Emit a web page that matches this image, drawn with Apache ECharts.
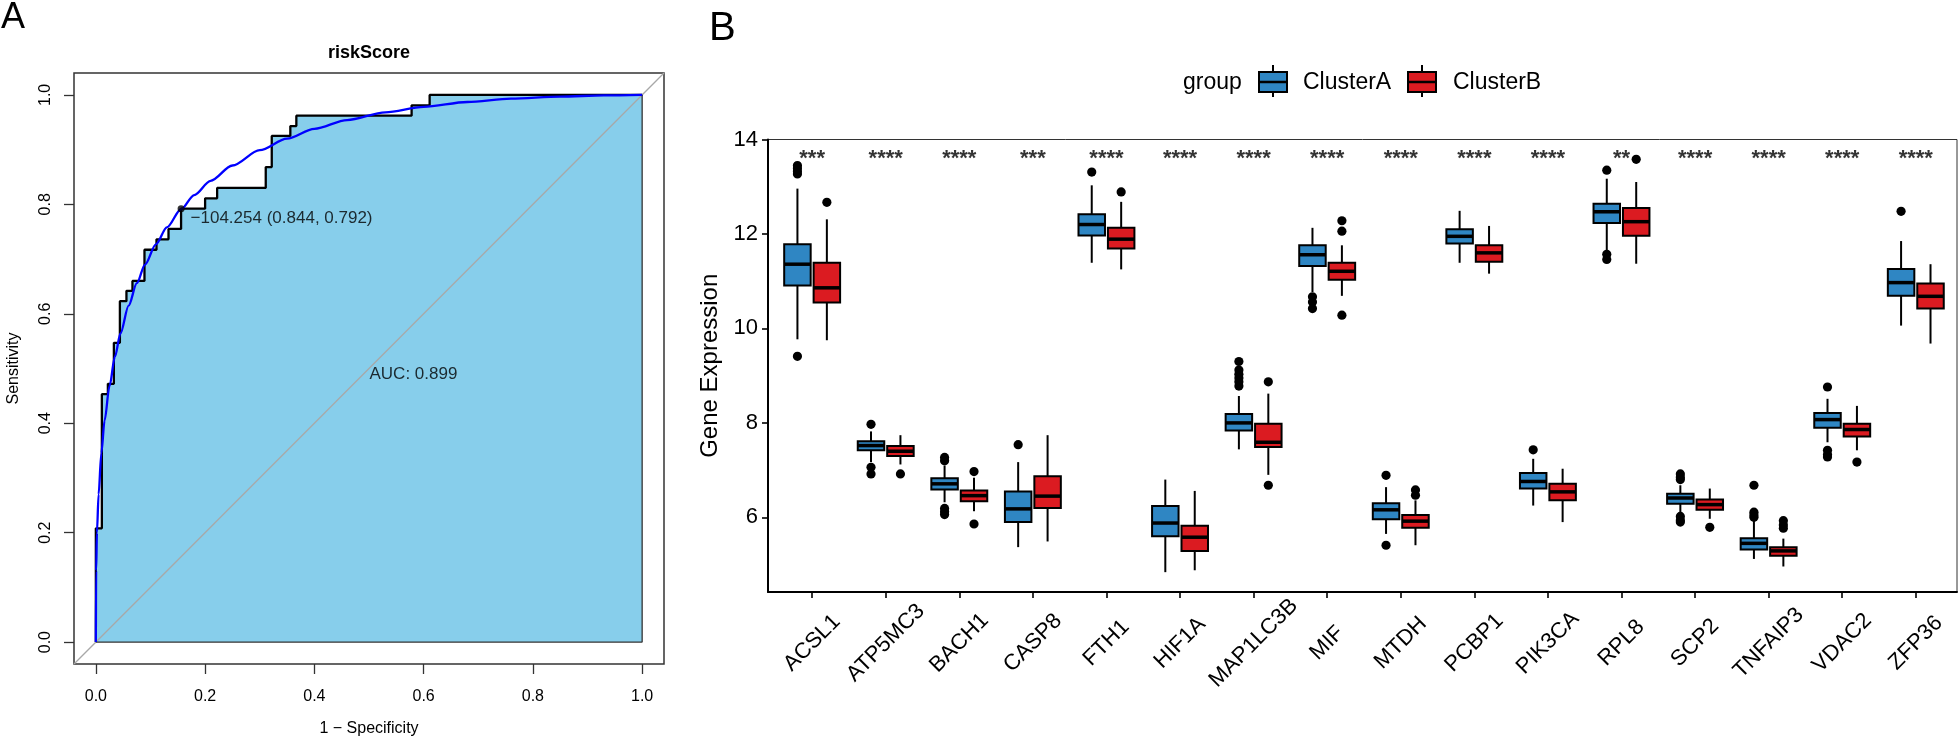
<!DOCTYPE html>
<html><head><meta charset="utf-8">
<script src="https://cdn.jsdelivr.net/npm/echarts@6/dist/echarts.min.js"></script>
<style>html,body{margin:0;padding:0;background:#fff}#c{width:1960px;height:736px}</style>
</head><body><div id="c"></div>
<script>
// ---------- Panel A: ROC ----------
const rocFpr = [0, 0, 0.011, 0.011, 0.022, 0.022, 0.033, 0.033, 0.044, 0.044, 0.056, 0.056, 0.067, 0.067, 0.089, 0.089, 0.111, 0.111, 0.133, 0.133, 0.156, 0.156, 0.2, 0.2, 0.222, 0.222, 0.311, 0.311, 0.322, 0.322, 0.356, 0.356, 0.367, 0.367, 0.578, 0.578, 0.611, 0.611, 1];
const rocTpr = [0, 0.208, 0.208, 0.453, 0.453, 0.472, 0.472, 0.547, 0.547, 0.623, 0.623, 0.642, 0.642, 0.660, 0.660, 0.717, 0.717, 0.736, 0.736, 0.755, 0.755, 0.792, 0.792, 0.811, 0.811, 0.830, 0.830, 0.868, 0.868, 0.925, 0.925, 0.943, 0.943, 0.962, 0.962, 0.981, 0.981, 1, 1];
const smoothFpr = [0, 0.0005, 0.002, 0.005, 0.01, 0.016, 0.025, 0.035, 0.045, 0.06, 0.075, 0.09, 0.11, 0.13, 0.156, 0.18, 0.21, 0.25, 0.30, 0.35, 0.40, 0.46, 0.53, 0.60, 0.68, 0.76, 0.85, 0.93, 1.0];
const smoothTpr = [0, 0.13, 0.2, 0.27, 0.345, 0.405, 0.468, 0.522, 0.564, 0.615, 0.656, 0.690, 0.727, 0.758, 0.791, 0.817, 0.843, 0.871, 0.899, 0.920, 0.938, 0.954, 0.968, 0.978, 0.987, 0.993, 0.997, 0.999, 1.0];
const bestThreshold = -104.254, bestSpec = 0.844, bestSens = 0.792;
const aucValue = 0.899;
const aucLabelAt = [0.5, 0.5];
const rocTicks = [0, 0.2, 0.4, 0.6, 0.8, 1.0];
const rocRange = [-0.04, 1.04];

// ---------- Panel B: boxplots ----------
const genes = ['ACSL1','ATP5MC3','BACH1','CASP8','FTH1','HIF1A','MAP1LC3B','MIF','MTDH','PCBP1','PIK3CA','RPL8','SCP2','TNFAIP3','VDAC2','ZFP36'];
const aLow  = [9.77, 7.17, 6.32, 5.37, 11.39, 4.84, 7.44, 10.77, 5.65, 11.39, 6.25, 11.65, 6.11, 5.12, 7.59, 10.06];
const aQ1   = [10.91, 7.42, 6.59, 5.90, 11.97, 5.60, 7.84, 11.32, 5.96, 11.80, 6.61, 12.23, 6.29, 5.32, 7.90, 10.69];
const aMed  = [11.36, 7.52, 6.71, 6.18, 12.20, 5.88, 8.00, 11.56, 6.16, 11.95, 6.76, 12.47, 6.41, 5.45, 8.07, 10.97];
const aQ3   = [11.78, 7.61, 6.83, 6.55, 12.42, 6.24, 8.19, 11.76, 6.30, 12.10, 6.94, 12.64, 6.50, 5.56, 8.21, 11.26];
const aHigh = [12.96, 7.82, 7.10, 7.17, 13.03, 6.80, 8.57, 12.13, 6.64, 12.49, 7.24, 13.17, 6.68, 5.93, 8.51, 11.85];
const aOut  = [[13.45, 13.39, 13.33, 13.27, 9.41], [7.97, 7.06, 6.92], [7.27, 7.20, 6.19, 6.12, 6.06], [7.54], [13.31], [], [9.30, 9.12, 9.03, 8.95, 8.87, 8.78], [10.67, 10.56, 10.42], [6.89, 5.41], [], [7.43], [13.35, 11.57, 11.46], [6.92, 6.85, 6.80, 6.02, 5.94, 5.90], [6.68, 6.11, 6.05, 6.00], [8.76, 7.42, 7.33, 7.28], [12.48]];
const bLow  = [9.75, 7.12, 6.13, 5.49, 11.25, 4.88, 6.90, 10.69, 5.41, 11.16, 5.90, 11.37, 5.97, 4.96, 7.42, 9.68];
const bQ1   = [10.55, 7.30, 6.34, 6.20, 11.69, 5.29, 7.49, 11.03, 5.78, 11.41, 6.36, 11.96, 6.16, 5.19, 7.71, 10.42];
const bMed  = [10.86, 7.40, 6.46, 6.45, 11.89, 5.58, 7.59, 11.21, 5.92, 11.60, 6.54, 12.26, 6.27, 5.29, 7.86, 10.68];
const bQ3   = [11.39, 7.51, 6.57, 6.87, 12.13, 5.82, 7.98, 11.39, 6.05, 11.76, 6.71, 12.55, 6.38, 5.37, 7.98, 10.95];
const bHigh = [12.31, 7.74, 6.84, 7.74, 12.68, 6.56, 8.62, 11.76, 6.36, 12.17, 7.03, 13.10, 6.61, 5.55, 8.36, 11.36];
const bOut  = [[12.67], [6.92], [6.97, 5.86], [], [12.89], [], [8.87, 6.68], [12.28, 12.06, 10.28], [6.58, 6.47], [], [], [13.58], [5.79], [5.93, 5.84, 5.77], [7.17], []];
const sigLabels = ['***','****','****','***','****','****','****','****','****','****','****','**','****','****','****','****'];
const sigLabelY = 13.58;
const exprTicks = [6, 8, 10, 12, 14];
const exprRange = [4.42, 14];
const groupNames = ['ClusterA', 'ClusterB'];
const groupColors = ['#2F86C3', '#DB1B21'];

const FONT = "'Liberation Sans', Arial, Helvetica, sans-serif";
const zip = (xs, ys) => xs.map((x, i) => [x, ys[i]]);
const rocPts = zip(rocFpr, rocTpr);
const smoothPts = zip(smoothFpr, smoothTpr);
const geneIdx = genes.map((g, i) => i + 1);

function boxSeries(name, color, lows, q1s, meds, q3s, highs, outs, side) {
  return {
    type: 'custom', name, xAxisIndex: 1, yAxisIndex: 1, z: 3,
    data: genes.map((g, i) => [i + 1, lows[i], q1s[i], meds[i], q3s[i], highs[i]]),
    encode: { x: 0, y: [1, 2, 3, 4, 5] },
    renderItem(params, api) {
      const xi = api.value(0);
      const band = api.size([1, 0])[0];
      const cx = api.coord([xi, api.value(3)])[0] + side * 0.2 * band;
      const half = 0.18 * band;
      const y = k => api.coord([xi, api.value(k)])[1];
      const yLow = y(1), yQ1 = y(2), yMed = y(3), yQ3 = y(4), yHigh = y(5);
      const ch = [
        { type: 'line', shape: { x1: cx, y1: yHigh, x2: cx, y2: yQ3 }, style: { stroke: '#000', lineWidth: 2 } },
        { type: 'line', shape: { x1: cx, y1: yQ1, x2: cx, y2: yLow }, style: { stroke: '#000', lineWidth: 2 } },
        { type: 'rect', shape: { x: cx - half, y: yQ3, width: 2 * half, height: yQ1 - yQ3 }, style: { fill: color, stroke: '#000', lineWidth: 2 } },
        { type: 'line', shape: { x1: cx - half, y1: yMed, x2: cx + half, y2: yMed }, style: { stroke: '#000', lineWidth: 3.5 } }
      ];
      outs[params.dataIndex].forEach(v => {
        ch.push({ type: 'circle', shape: { cx, cy: api.coord([xi, v])[1], r: 4.6 }, style: { fill: '#000' } });
      });
      return { type: 'group', children: ch };
    }
  };
}

function legendKey(x0, color) {
  return [
    { type: 'line', shape: { x1: x0 + 14, y1: 65, x2: x0 + 14, y2: 97 }, style: { stroke: '#000', lineWidth: 2 } },
    { type: 'rect', shape: { x: x0, y: 72, width: 28, height: 20 }, style: { fill: color, stroke: '#000', lineWidth: 2 } },
    { type: 'line', shape: { x1: x0, y1: 82, x2: x0 + 28, y2: 82 }, style: { stroke: '#000', lineWidth: 2.5 } }
  ];
}
function txt(text, x, y, size, align, vAlign, weight) {
  return { type: 'text', x, y, style: { text, fill: '#000', font: (weight || 'normal') + ' ' + size + 'px ' + FONT,
    align, verticalAlign: vAlign, textAlign: align, textVerticalAlign: vAlign } };
}

const chart = echarts.init(document.getElementById('c'));
chart.setOption({
  animation: false,
  backgroundColor: '#fff',
  textStyle: { fontFamily: FONT },
  grid: [
    { left: 74, top: 73, width: 590, height: 591, show: true, borderColor: '#333', borderWidth: 1.5, outerBoundsMode: 'none' },
    { left: 768, top: 139.5, width: 1189, height: 452.5, show: true, borderColor: '#333', borderWidth: 1, outerBoundsMode: 'none' }
  ],
  xAxis: [
    { type: 'value', gridIndex: 0, min: rocRange[0], max: rocRange[1],
      axisLine: { show: false, onZero: false }, splitLine: { show: false },
      axisTick: { show: true, customValues: rocTicks, length: 10, lineStyle: { color: '#333', width: 1.3 } },
      axisLabel: { customValues: rocTicks, formatter: v => v.toFixed(1), fontSize: 16, color: '#000', margin: 25 },
      name: '1 − Specificity', nameLocation: 'middle', nameGap: 57, nameTextStyle: { fontSize: 16, color: '#000' } },
    { type: 'value', gridIndex: 1, min: 0.4, max: 16.56,
      axisLine: { show: true, onZero: false, lineStyle: { color: '#000', width: 2 } }, splitLine: { show: false },
      axisTick: { show: true, customValues: geneIdx, length: 6, lineStyle: { color: '#000', width: 1.6 } },
      axisLabel: { customValues: geneIdx, formatter: v => genes[Math.round(v) - 1], rotate: 45, align: 'center', verticalAlign: 'middle',
        margin: 51, fontSize: 22, color: '#000' } }
  ],
  yAxis: [
    { type: 'value', gridIndex: 0, min: rocRange[0], max: rocRange[1],
      axisLine: { show: false, onZero: false }, splitLine: { show: false },
      axisTick: { show: true, customValues: rocTicks, length: 10, lineStyle: { color: '#333', width: 1.3 } },
      axisLabel: { customValues: rocTicks, formatter: v => v.toFixed(1), rotate: 90, fontSize: 16, color: '#000', margin: 20 },
      name: 'Sensitivity', nameLocation: 'middle', nameGap: 52, nameTextStyle: { fontSize: 16, color: '#000' } },
    { type: 'value', gridIndex: 1, min: exprRange[0], max: exprRange[1],
      axisLine: { show: true, onZero: false, lineStyle: { color: '#000', width: 2 } }, splitLine: { show: false },
      axisTick: { show: true, customValues: exprTicks, length: 6, lineStyle: { color: '#000', width: 1.6 } },
      axisLabel: { customValues: exprTicks, fontSize: 22, color: '#000', margin: 10 },
      name: 'Gene Expression', nameLocation: 'middle', nameGap: 44, nameTextStyle: { fontSize: 24, color: '#000' } }
  ],
  series: [
    { type: 'line', xAxisIndex: 0, yAxisIndex: 0, data: rocPts, symbol: 'none', silent: true, z: 1,
      lineStyle: { opacity: 0 }, areaStyle: { color: '#87CEEB', opacity: 1 } },
    { type: 'line', xAxisIndex: 0, yAxisIndex: 0, data: [[rocRange[0], rocRange[0]], [rocRange[1], rocRange[1]]], symbol: 'none', silent: true, z: 2,
      lineStyle: { color: '#A8A8A8', width: 1.3 } },
    { type: 'line', xAxisIndex: 0, yAxisIndex: 0, data: [[1, 1], [1, 0], [0, 0]], symbol: 'none', silent: true, z: 3,
      lineStyle: { color: '#333', width: 1.3 } },
    { type: 'line', xAxisIndex: 0, yAxisIndex: 0, data: rocPts, symbol: 'none', silent: true, z: 4,
      lineStyle: { color: '#000', width: 2.3 } },
    { type: 'line', xAxisIndex: 0, yAxisIndex: 0, data: smoothPts, symbol: 'none', smooth: 0.3, smoothMonotone: 'x', silent: true, z: 5,
      lineStyle: { color: '#0000FF', width: 2.3 } },
    { type: 'scatter', xAxisIndex: 0, yAxisIndex: 0, data: [[1 - bestSpec, bestSens]], symbolSize: 7, z: 6,
      itemStyle: { color: '#000' },
      label: { show: true, position: 'right', distance: 6, offset: [0, 10], fontSize: 17, color: '#000',
        formatter: () => String(bestThreshold).replace('-', '−') + ' (' + bestSpec.toFixed(3) + ', ' + bestSens.toFixed(3) + ')' } },
    { type: 'scatter', xAxisIndex: 0, yAxisIndex: 0, data: [aucLabelAt], symbolSize: 1, z: 6,
      itemStyle: { color: 'rgba(0,0,0,0)' },
      label: { show: true, position: 'right', distance: 0, offset: [0, 6], fontSize: 17, color: '#000',
        formatter: () => 'AUC: ' + aucValue.toFixed(3) } },
    boxSeries(groupNames[0], groupColors[0], aLow, aQ1, aMed, aQ3, aHigh, aOut, -1),
    boxSeries(groupNames[1], groupColors[1], bLow, bQ1, bMed, bQ3, bHigh, bOut, 1),
    { type: 'scatter', xAxisIndex: 1, yAxisIndex: 1, data: geneIdx.map(i => [i, sigLabelY]), symbolSize: 1, z: 6,
      itemStyle: { color: 'rgba(0,0,0,0)' },
      label: { show: true, position: 'inside', fontSize: 22, fontWeight: 'bold', color: '#000', textBorderWidth: 0,
        formatter: p => sigLabels[p.dataIndex] } }
  ],
  graphic: [
    txt('A', 1, 0, 36, 'left', 'top'),
    txt('B', 709, 9, 40, 'left', 'top'),
    txt('riskScore', 369, 53, 18, 'center', 'middle', 'bold'),
    txt('group', 1183, 83, 23, 'left', 'middle'),
    ...legendKey(1259, groupColors[0]),
    txt(groupNames[0], 1303, 83, 23, 'left', 'middle'),
    ...legendKey(1408, groupColors[1]),
    txt(groupNames[1], 1453, 83, 23, 'left', 'middle')
  ]
});
</script></body></html>
